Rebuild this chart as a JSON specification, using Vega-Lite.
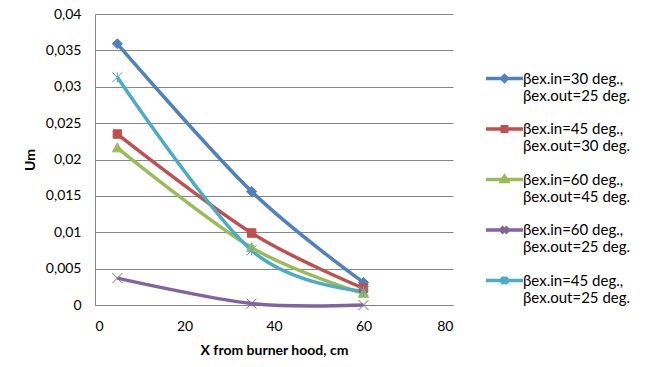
{
  "$schema": "https://vega.github.io/schema/vega-lite/v6.json",
  "width": 358,
  "height": 291,
  "autosize": "none",
  "padding": {"left": 95, "top": 14, "right": 195, "bottom": 62},
  "background": "white",
  "config": {"font": "Lato", "view": {"stroke": null},
    "legend": {"orient": "none", "legendX": 389, "legendY": 44, "title": null,
      "padding": 0, "symbolStrokeWidth": 3.5, "symbolSize": 1369,
      "labelFontSize": 15, "labelColor": "#000000", "labelOffset": -2, "labelLimit": 300,
      "rowPadding": 4.5}},
  "data": {"values": [
    {"series": "βex.in=30 deg., βex.out=25 deg.", "x": 5, "y": 0.0359},
    {"series": "βex.in=30 deg., βex.out=25 deg.", "x": 35, "y": 0.0156},
    {"series": "βex.in=30 deg., βex.out=25 deg.", "x": 60, "y": 0.0031},
    {"series": "βex.in=45 deg., βex.out=30 deg.", "x": 5, "y": 0.0235},
    {"series": "βex.in=45 deg., βex.out=30 deg.", "x": 35, "y": 0.0099},
    {"series": "βex.in=45 deg., βex.out=30 deg.", "x": 60, "y": 0.0023},
    {"series": "βex.in=60 deg., βex.out=45 deg.", "x": 5, "y": 0.0216},
    {"series": "βex.in=60 deg., βex.out=45 deg.", "x": 35, "y": 0.0079},
    {"series": "βex.in=60 deg., βex.out=45 deg.", "x": 60, "y": 0.0016},
    {"series": "βex.in=60 deg., βex.out=25 deg.", "x": 5, "y": 0.0037},
    {"series": "βex.in=60 deg., βex.out=25 deg.", "x": 35, "y": 0.0002},
    {"series": "βex.in=60 deg., βex.out=25 deg.", "x": 60, "y": 0.0},
    {"series": "βex.in=45 deg., βex.out=25 deg.", "x": 5, "y": 0.0313},
    {"series": "βex.in=45 deg., βex.out=25 deg.", "x": 35, "y": 0.0075},
    {"series": "βex.in=45 deg., βex.out=25 deg.", "x": 60, "y": 0.0019}
  ]},
  "encoding": {
    "x": {"field": "x", "type": "quantitative",
      "scale": {"domain": [0, 80]},
      "axis": {"values": [0, 20, 40, 60, 80], "grid": false, "ticks": false,
        "domainColor": "#868686", "labelFontSize": 14, "labelColor": "#000000",
        "labelPadding": 14, "title": "X from burner hood, cm", "titleFontSize": 14,
        "titleFontWeight": "bold", "titleColor": "#000000", "titlePadding": 10}},
    "y": {"field": "y", "type": "quantitative",
      "scale": {"domain": [0, 0.04]},
      "axis": {"values": [0, 0.005, 0.01, 0.015, 0.02, 0.025, 0.03, 0.035, 0.04],
        "labelExpr": "replace(format(datum.value, '~g'), '.', ',')",
        "grid": true, "gridColor": "#868686", "ticks": false,
        "domainColor": "#868686", "labelFontSize": 14, "labelColor": "#000000",
        "labelPadding": 14, "title": "Um", "titleFontSize": 14,
        "titleFontWeight": "bold", "titleColor": "#000000", "titlePadding": 8}}
  },
  "layer": [
    {"mark": {"type": "line", "interpolate": "cardinal", "strokeWidth": 3.5},
      "encoding": {
        "color": {"field": "series", "type": "nominal", "legend": null,
          "scale": {"domain": ["βex.in=30 deg., βex.out=25 deg.", "βex.in=45 deg., βex.out=30 deg.", "βex.in=60 deg., βex.out=45 deg.", "βex.in=60 deg., βex.out=25 deg.", "βex.in=45 deg., βex.out=25 deg."],
            "range": ["#4F81BD", "#C0504D", "#9BBB59", "#8064A2", "#4BACC6"]}}}},
    {"mark": {"type": "point", "filled": true, "size": 100, "strokeWidth": 1, "opacity": 1},
      "encoding": {
        "color": {"field": "series", "type": "nominal", "legend": null,
          "scale": {"domain": ["βex.in=30 deg., βex.out=25 deg.", "βex.in=45 deg., βex.out=30 deg.", "βex.in=60 deg., βex.out=45 deg.", "βex.in=60 deg., βex.out=25 deg.", "βex.in=45 deg., βex.out=25 deg."],
            "range": ["#4F81BD", "#C0504D", "#9BBB59", "#8064A2", "#4BACC6"]}},
        "stroke": {"field": "series", "type": "nominal", "legend": null,
          "scale": {"domain": ["βex.in=30 deg., βex.out=25 deg.", "βex.in=45 deg., βex.out=30 deg.", "βex.in=60 deg., βex.out=45 deg.", "βex.in=60 deg., βex.out=25 deg.", "βex.in=45 deg., βex.out=25 deg."],
            "range": ["#4F81BD", "#C0504D", "#9BBB59", "#8064A2", "#4BACC6"]}},
        "shape": {"field": "series", "type": "nominal", "legend": null,
          "scale": {"domain": ["βex.in=30 deg., βex.out=25 deg.", "βex.in=45 deg., βex.out=30 deg.", "βex.in=60 deg., βex.out=45 deg.", "βex.in=60 deg., βex.out=25 deg.", "βex.in=45 deg., βex.out=25 deg."],
            "range": ["M0,-1L1,0L0,1L-1,0Z", "M-0.85,-0.85H0.85V0.85H-0.85Z", "M0,-1L1,0.8H-1Z", "M-1,-1L1,1M1,-1L-1,1", "M-1,-1L1,1M1,-1L-1,1M0,-1L0,1"]}}}},
    {"transform": [{"filter": "false"}],
      "mark": {"type": "point", "filled": true, "size": 1369, "strokeWidth": 3.5, "opacity": 1},
      "encoding": {
        "color": {"field": "series", "type": "nominal",
          "scale": {"domain": ["βex.in=30 deg., βex.out=25 deg.", "βex.in=45 deg., βex.out=30 deg.", "βex.in=60 deg., βex.out=45 deg.", "βex.in=60 deg., βex.out=25 deg.", "βex.in=45 deg., βex.out=25 deg."],
            "range": ["#4F81BD", "#C0504D", "#9BBB59", "#8064A2", "#4BACC6"]},
          "legend": {"labelExpr": "[slice(datum.label, 0, indexof(datum.label, ',') + 1), slice(datum.label, indexof(datum.label, ',') + 2)]"}},
        "stroke": {"field": "series", "type": "nominal",
          "scale": {"domain": ["βex.in=30 deg., βex.out=25 deg.", "βex.in=45 deg., βex.out=30 deg.", "βex.in=60 deg., βex.out=45 deg.", "βex.in=60 deg., βex.out=25 deg.", "βex.in=45 deg., βex.out=25 deg."],
            "range": ["#4F81BD", "#C0504D", "#9BBB59", "#8064A2", "#4BACC6"]},
          "legend": {"labelExpr": "[slice(datum.label, 0, indexof(datum.label, ',') + 1), slice(datum.label, indexof(datum.label, ',') + 2)]"}},
        "shape": {"field": "series", "type": "nominal",
          "scale": {"domain": ["βex.in=30 deg., βex.out=25 deg.", "βex.in=45 deg., βex.out=30 deg.", "βex.in=60 deg., βex.out=45 deg.", "βex.in=60 deg., βex.out=25 deg.", "βex.in=45 deg., βex.out=25 deg."],
            "range": ["M-1,0H1M0,-0.15L0.15,0L0,0.15L-0.15,0Z", "M-1,0H1M-0.12,-0.12H0.12V0.12H-0.12Z", "M-1,0H1M0,-0.17L0.17,0.11H-0.17Z", "M-1,0H1M-0.17,-0.17L0.17,0.17M0.17,-0.17L-0.17,0.17", "M-1,0H1M-0.17,-0.17L0.17,0.17M0.17,-0.17L-0.17,0.17M0,-0.2L0,0.2"]},
          "legend": {"labelExpr": "[slice(datum.label, 0, indexof(datum.label, ',') + 1), slice(datum.label, indexof(datum.label, ',') + 2)]"}}}}
  ],
  "resolve": {"scale": {"shape": "independent", "color": "independent", "stroke": "independent"}}
}
